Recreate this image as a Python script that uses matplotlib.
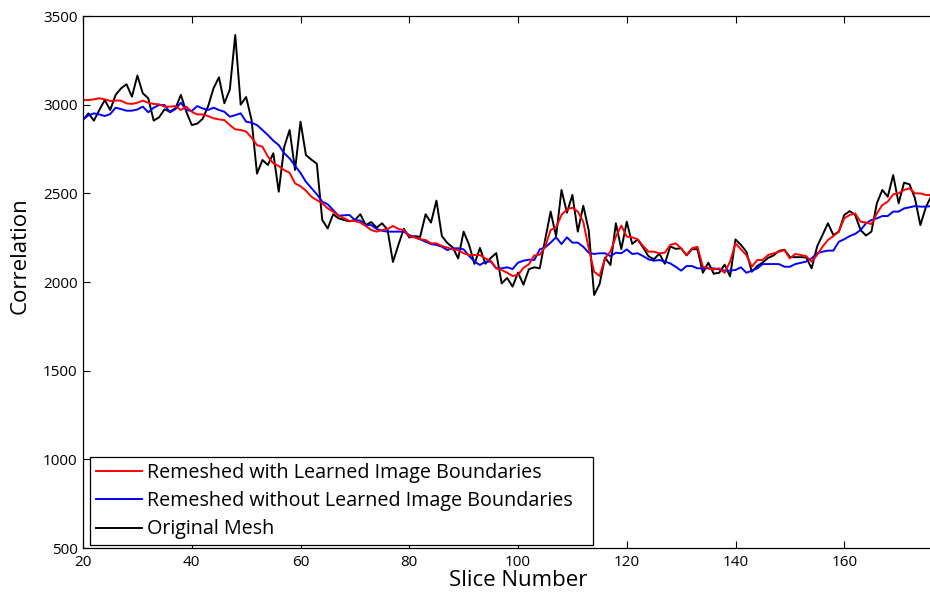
import matplotlib
matplotlib.use("Agg")
import matplotlib.pyplot as plt
import numpy as np

slices = list(range(20, 177))

original = [2914, 2951, 2910, 2970, 3026, 2970, 3055, 3092, 3115, 3045,
            3164, 3064, 3036, 2910, 2929, 2974, 2960, 2980, 3055, 2960,
            2885, 2893, 2920, 2990, 3092, 3154, 3008, 3085, 3393, 3000,
            3043, 2914, 2611, 2688, 2660, 2726, 2509, 2762, 2857, 2632,
            2904, 2716, 2690, 2667, 2350, 2302, 2382, 2359, 2350, 2342, 2350,
            2382, 2321, 2338, 2307, 2331, 2295, 2113, 2209, 2300, 2251,
            2259, 2254, 2382, 2335, 2459, 2259, 2220, 2195, 2133, 2284,
            2210, 2102, 2192, 2103, 2136, 2163, 1992, 2023, 1974, 2053,
            1985, 2072, 2083, 2077, 2240, 2397, 2258, 2519, 2391, 2491,
            2284, 2430, 2293, 1927, 1988, 2138, 2096, 2331, 2185, 2340,
            2215, 2240, 2195, 2145, 2128, 2160, 2103, 2201, 2187, 2190,
            2150, 2185, 2185, 2052, 2109, 2047, 2052, 2098, 2032, 2240,
            2209, 2171, 2058, 2090, 2110, 2136, 2150, 2175, 2182, 2141,
            2140, 2140, 2139, 2077, 2199, 2265, 2331, 2265, 2284, 2378, 2400,
            2378, 2293, 2262, 2284, 2444, 2519, 2481, 2603, 2444, 2560,
            2551, 2472, 2321, 2421, 2485]

remeshed_learned = [3026, 3026, 3030, 3036, 3030, 3021, 3023, 3023, 3007, 3004,
                    3011, 3023, 3011, 3004, 3002, 2989, 2989, 2992, 2970, 2989,
                    2960, 2945, 2945, 2936, 2923, 2917, 2913, 2885, 2861, 2857,
                    2848, 2814, 2772, 2763, 2707, 2669, 2654, 2631, 2616, 2556,
                    2540, 2515, 2481, 2462, 2444, 2415, 2397, 2374, 2360, 2344, 2344,
                    2335, 2316, 2293, 2284, 2293, 2299, 2316, 2299, 2293, 2259,
                    2252, 2241, 2237, 2218, 2218, 2203, 2194, 2184, 2180, 2162,
                    2152, 2152, 2152, 2133, 2120, 2077, 2068, 2052, 2034, 2040,
                    2080, 2100, 2150, 2154, 2199, 2293, 2308, 2378, 2410, 2419,
                    2397, 2340, 2190, 2058, 2034, 2133, 2171, 2256, 2318, 2256,
                    2252, 2241, 2203, 2171, 2171, 2162, 2165, 2209, 2218, 2190,
                    2152, 2190, 2199, 2086, 2077, 2071, 2077, 2052, 2115, 2218,
                    2184, 2152, 2086, 2124, 2124, 2152, 2162, 2171, 2180, 2133,
                    2158, 2152, 2146, 2115, 2152, 2199, 2237, 2259, 2284, 2359, 2378,
                    2387, 2340, 2335, 2327, 2387, 2434, 2453, 2494, 2500, 2519,
                    2528, 2500, 2500, 2491, 2491]

remeshed_plain = [2917, 2940, 2951, 2945, 2936, 2947, 2983, 2975, 2966, 2966,
                  2973, 2989, 2957, 2983, 2998, 2998, 2957, 2975, 3011, 2970,
                  2964, 2992, 2979, 2970, 2983, 2970, 2960, 2932, 2941, 2951,
                  2904, 2898, 2885, 2857, 2829, 2797, 2772, 2726, 2697, 2655,
                  2615, 2565, 2530, 2495, 2453, 2438, 2406, 2374, 2376, 2378, 2350,
                  2346, 2321, 2321, 2299, 2289, 2284, 2284, 2284, 2284, 2265,
                  2252, 2241, 2227, 2214, 2209, 2199, 2180, 2190, 2190, 2184,
                  2147, 2115, 2096, 2115, 2115, 2077, 2077, 2083, 2073, 2109,
                  2120, 2126, 2124, 2184, 2195, 2222, 2252, 2214, 2252, 2222,
                  2222, 2199, 2165, 2158, 2162, 2162, 2146, 2165, 2162, 2184,
                  2158, 2162, 2146, 2128, 2120, 2124, 2115, 2105, 2086, 2064,
                  2090, 2090, 2077, 2077, 2077, 2077, 2071, 2064, 2064, 2068,
                  2083, 2052, 2064, 2077, 2101, 2101, 2101, 2101, 2086, 2086,
                  2101, 2108, 2115, 2133, 2162, 2171, 2177, 2177, 2227, 2241, 2259,
                  2271, 2293, 2331, 2350, 2359, 2372, 2372, 2397, 2397, 2415,
                  2421, 2428, 2425, 2425, 2428]

labels = ["Remeshed with Learned Image Boundaries",
          "Remeshed without Learned Image Boundaries",
          "Original Mesh"]
x_ticks = [20, 40, 60, 80, 100, 120, 140, 160]
y_ticks = [500, 1000, 1500, 2000, 2500, 3000, 3500]

plt.rcParams['font.family'] = ['Open Sans', 'DejaVu Sans']

fig = plt.figure(figsize=(9.3, 5.96), dpi=100)
# the original figure is cropped on the right: the axes run past the edge
ax = fig.add_axes([83/930, 1-548/596, 870/930, 532/596])

lk, = ax.plot(slices, original, color='black', lw=1.4)
lb, = ax.plot(slices, remeshed_plain, color='#0000ff', lw=1.4)
lr, = ax.plot(slices, remeshed_learned, color='#ff0000', lw=1.4)

ax.set_xlim(20, 180)
ax.set_ylim(500, 3500)
ax.set_xticks(x_ticks)
ax.set_yticks(y_ticks)
ax.tick_params(direction='in', length=5, width=0.8, top=True, right=True,
               labelsize=11)
ax.tick_params(axis='x', pad=5)
ax.tick_params(axis='y', pad=4)
for s in ax.spines.values():
    s.set_linewidth(0.9)

ax.set_xlabel("Slice Number", fontsize=16, labelpad=0)
ax.set_ylabel("Correlation", fontsize=16)
ax.yaxis.set_label_coords(-0.06, 0.55)

leg = ax.legend([lr, lb, lk], labels, loc='lower left',
                bbox_to_anchor=(7/870, 3/532, 503/870, 0.15), mode='expand',
                borderaxespad=0, fontsize=14.2, handlelength=2.35,
                handletextpad=0.25, labelspacing=0.42, borderpad=0.28,
                fancybox=False, framealpha=1, edgecolor='black')
leg.get_frame().set_linewidth(0.9)

fig.savefig("out.png", dpi=100)
